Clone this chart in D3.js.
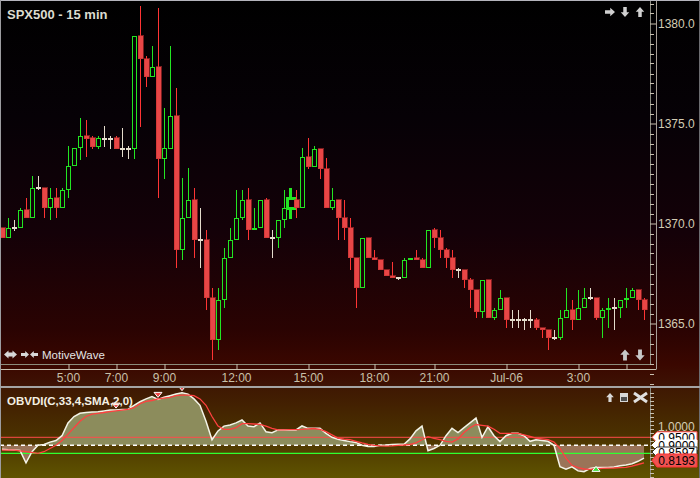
<!DOCTYPE html>
<html><head><meta charset="utf-8">
<script src="https://cdn.jsdelivr.net/npm/d3@7"></script>
<style>body{margin:0;background:#000;overflow:hidden}svg{display:block}</style>
</head><body>
<svg id="c" width="700" height="478"></svg>
<script>
// ---------------- DATA ----------------
const title = "SPX500 - 15 min";
const indicatorTitle = "OBVDI(C,33,4,SMA,2,0)";
const barIndex = d3.range(108);
const opens = [1369.8,1369.3,1369.8,1369.8,1370.7,1370.3,1371.8,1371.8,1370.8,1371.3,
1370.8,1371.7,1372.9,1373.8,1374.4,1374.3,1373.85,1374.25,1374.25,1374.3,
1373.75,1373.75,1373.75,1379.4,1378.25,1377.35,1377.85,1373.25,1373.75,1375.4,
1368.7,1370.3,1371.2,1369.2,1369.2,1366.3,1364.2,1366.2,1368.3,1369.2,
1370.3,1371.2,1369.7,1369.8,1371.2,1369.3,1369.3,1370.2,1370.75,1371.2,
1370.8,1373.35,1372.85,1373.75,1372.75,1370.8,1371.2,1370.3,1369.8,1368.3,
1366.8,1369.3,1368.3,1368.2,1367.7,1367.4,1367.3,1367.3,1368.2,1368.3,
1368.2,1367.8,1369.7,1369.3,1368.7,1368.3,1367.7,1367.7,1367.2,1366.7,
1365.6,1367.2,1365.3,1365.7,1366.3,1365.2,1365.2,1365.2,1365.2,1365.2,
1364.8,1364.7,1364.3,1364.3,1365.3,1365.7,1365.2,1365.8,1366.3,1366.3,
1365.3,1365.7,1365.8,1365.8,1366.2,1366.3,1366.7,1366.2];
const highs = [1369.8,1370.3,1370.2,1370.8,1371.3,1372.4,1372.4,1371.8,1371.8,1371.8,
1371.8,1373.9,1373.8,1375.3,1375.2,1374.4,1374.4,1374.9,1374.4,1374.4,
1374.8,1373.9,1379.4,1380.9,1378.4,1378.9,1380.8,1375.8,1378.9,1376.8,
1372.3,1372.8,1371.8,1370.8,1369.7,1366.8,1366.8,1368.8,1369.8,1371.7,
1371.7,1371.8,1370.8,1371.2,1371.3,1369.7,1370.2,1371.7,1371.8,1371.7,
1373.8,1374.3,1373.9,1373.75,1373.3,1371.8,1371.2,1371.2,1370.3,1368.3,
1369.3,1369.3,1368.7,1368.2,1367.7,1368.1,1367.3,1368.3,1368.3,1368.7,
1368.3,1369.7,1369.8,1369.7,1368.8,1368.7,1367.8,1367.7,1367.3,1366.7,
1367.2,1367.2,1365.8,1366.7,1366.3,1365.7,1365.7,1365.3,1365.7,1365.3,
1364.8,1364.7,1364.7,1365.7,1366.8,1366.2,1366.7,1366.8,1366.8,1366.3,
1365.8,1366.3,1366.3,1366.2,1366.8,1366.8,1366.7,1366.3];
const lows = [1369.3,1369.3,1369.65,1369.8,1370.3,1370.3,1371.7,1370.3,1370.2,1370.3,
1370.8,1371.3,1372.9,1373.2,1373.35,1373.75,1373.75,1373.85,1373.75,1373.75,
1373.35,1373.25,1373.25,1374.85,1376.85,1377.35,1371.3,1372.25,1373.75,1367.8,
1368.2,1370.3,1368.3,1367.8,1365.7,1363.2,1363.7,1365.8,1368.3,1369.2,
1370.2,1369.2,1369.7,1369.8,1369.3,1368.3,1368.8,1369.8,1370.25,1370.3,
1370.8,1372.75,1372.85,1372.25,1370.8,1370.7,1369.2,1369.2,1367.7,1365.8,
1366.8,1368.3,1368.2,1367.7,1367.4,1367.3,1367.2,1367.3,1368.2,1368.2,
1367.8,1367.8,1368.8,1368.3,1367.8,1367.3,1367.3,1366.8,1365.8,1365.3,
1365.3,1365.3,1365.2,1365.7,1364.8,1364.8,1364.8,1364.7,1364.8,1364.7,
1364.3,1363.7,1364.2,1364.2,1365.3,1364.7,1365.2,1365.8,1366.2,1365.2,
1364.3,1364.8,1364.7,1365.3,1365.8,1366.3,1365.7,1365.2];
const closes = [1369.3,1369.8,1369.8,1370.7,1370.3,1371.8,1371.8,1370.8,1371.3,1370.8,
1371.7,1372.9,1373.8,1374.4,1374.25,1373.85,1374.3,1374.25,1374.25,1373.75,
1373.75,1373.75,1379.4,1378.25,1377.35,1377.85,1373.25,1373.8,1375.4,1368.7,
1370.3,1371.2,1369.2,1369.2,1366.3,1364.2,1366.2,1368.3,1369.2,1370.3,
1371.2,1369.7,1369.8,1371.2,1369.3,1369.3,1370.2,1370.8,1371.25,1370.8,
1373.35,1372.85,1373.75,1372.75,1370.8,1371.2,1370.3,1369.8,1368.3,1366.8,
1369.3,1368.3,1368.2,1367.7,1367.4,1367.3,1367.3,1368.2,1368.3,1368.2,
1367.8,1369.7,1369.3,1368.7,1368.3,1367.7,1367.7,1367.2,1366.7,1365.6,
1367.2,1365.3,1365.7,1366.3,1365.2,1365.2,1365.2,1365.2,1365.2,1364.8,
1364.7,1364.3,1364.3,1365.3,1365.7,1365.2,1365.8,1366.3,1366.3,1365.3,
1365.7,1365.8,1365.8,1366.2,1366.3,1366.7,1366.2,1365.7];
const obvdi = [0.875,0.872,0.87,0.868,0.79,0.86,0.90,0.905,0.92,0.93,
0.96,1.04,1.08,1.10,1.105,1.108,1.11,1.115,1.12,1.12,
1.123,1.125,1.15,1.172,1.19,1.204,1.187,1.20,1.21,1.22,
1.229,1.22,1.19,1.15,1.05,0.935,0.99,1.02,1.027,1.04,
1.058,1.02,1.016,1.04,0.985,0.979,0.996,0.996,0.996,0.996,
1.021,1.006,1.006,1.006,0.975,0.95,0.937,0.93,0.923,0.918,
0.90,0.892,0.892,0.90,0.902,0.905,0.906,0.906,0.94,0.99,
1.02,0.866,0.88,0.90,0.96,1.006,0.98,1.01,1.04,1.07,
0.95,1.016,0.96,0.923,0.96,0.975,0.975,0.96,0.925,0.935,
0.93,0.925,0.90,0.766,0.75,0.765,0.74,0.735,0.755,0.762,
0.762,0.762,0.765,0.772,0.777,0.785,0.80,0.82];
const signal = [0.87,0.87,0.87,0.865,0.86,0.855,0.85,0.86,0.88,0.90,
0.93,0.97,1.01,1.05,1.08,1.095,1.10,1.105,1.11,1.115,
1.12,1.125,1.135,1.16,1.175,1.18,1.19,1.195,1.20,1.21,
1.214,1.214,1.21,1.19,1.15,1.08,1.02,1.00,1.00,1.01,
1.035,1.035,1.033,1.031,1.02,1.006,0.996,0.996,0.998,0.998,
1.0,1.003,1.005,1.0,0.985,0.965,0.945,0.938,0.935,0.925,
0.915,0.906,0.90,0.896,0.895,0.897,0.90,0.902,0.905,0.915,
0.935,0.954,0.944,0.935,0.925,0.92,0.94,0.98,1.01,1.03,
1.025,1.02,1.0,0.975,0.975,0.975,0.975,0.965,0.955,0.945,
0.94,0.935,0.92,0.88,0.82,0.775,0.76,0.752,0.75,0.752,
0.756,0.757,0.758,0.76,0.762,0.77,0.78,0.79];
const timeTickBars = [11,19,27,39,51,62,72,84,96,104];
const timeTickLabels = ["5:00","7:00","9:00","12:00","15:00","18:00","21:00","Jul-06","3:00",""];
const priceTicks = [1365,1370,1375,1380];
const upperLevel = 0.95, midLevel = 0.90, lowerLevel = 0.85;
const sellMarkers = [19,26,30];
const buyMarkers = [99];
const valueLabels = ["0.9500","0.9000","0.8597","0.8193"];
const selectedBar = 48;

// ---------------- LAYOUT ----------------
const svg = d3.select("#c");
const W = 700, H = 478;
const plotR = 650, mainBottom = 364, indTop = 388;
const xS = d3.scaleLinear().domain([0,107]).range([2,644]);
const yP = d3.scaleLinear().domain([1365,1380]).range([323.5,23.5]);
const yI = d3.scaleLinear().domain([0.9,1.0]).range([445.3,429.3]);
const defs = svg.append("defs");

const g1 = defs.append("linearGradient").attr("id","gMain").attr("x1",0).attr("y1",0).attr("x2",0).attr("y2",1);
[[0,"#000000"],[0.3,"#060106"],[0.6,"#140108"],[0.85,"#2a0302"],[0.94,"#3a0700"],[1,"#3e1404"]]
  .forEach(s=>g1.append("stop").attr("offset",s[0]).attr("stop-color",s[1]));
const g2 = defs.append("linearGradient").attr("id","gInd").attr("x1",0).attr("y1",0).attr("x2",0).attr("y2",1);
[[0,"#3f1802"],[0.5,"#4a3000"],[1,"#5f5400"]]
  .forEach(s=>g2.append("stop").attr("offset",s[0]).attr("stop-color",s[1]));

svg.append("rect").attr("x",0).attr("y",0).attr("width",W).attr("height",indTop).attr("fill","url(#gMain)");
svg.append("rect").attr("x",0).attr("y",indTop).attr("width",W).attr("height",H-indTop).attr("fill","url(#gInd)");

defs.append("clipPath").attr("id","clipMain").append("rect").attr("x",1).attr("y",1).attr("width",plotR-1).attr("height",mainBottom-1);
defs.append("clipPath").attr("id","clipInd").append("rect").attr("x",1).attr("y",indTop).attr("width",plotR-1).attr("height",H-indTop);

// ---------------- CANDLES ----------------
const cg = svg.append("g").attr("clip-path","url(#clipMain)").attr("shape-rendering","crispEdges");
const GREEN="#22e622", RED="#ff3434", REDBODY="#e84646", WHITE="#e4dccc";
barIndex.forEach(i=>{
  const o=opens[i], c=closes[i], h=highs[i], l=lows[i];
  const cx = Math.round(xS(i));
  const sel = i===selectedBar;
  if (c>o){
    const yt=yP(c), yb=yP(o);
    const sw = sel?3:1;
    cg.append("line").attr("x1",cx+0.5).attr("x2",cx+0.5).attr("y1",yP(h)).attr("y2",yt).attr("stroke",GREEN).attr("stroke-width",sw);
    cg.append("line").attr("x1",cx+0.5).attr("x2",cx+0.5).attr("y1",yb).attr("y2",yP(l)).attr("stroke",GREEN).attr("stroke-width",sw);
    if(sel){
      cg.append("rect").attr("x",cx-3).attr("y",yt).attr("width",8).attr("height",Math.max(1,yb-yt)).attr("fill","none").attr("stroke",GREEN).attr("stroke-width",3);
    } else {
      cg.append("rect").attr("x",cx-1.5).attr("y",yt+0.5).attr("width",4).attr("height",Math.max(1,yb-yt-1)).attr("fill","none").attr("stroke",GREEN).attr("stroke-width",1);
    }
  } else if (c<o){
    cg.append("line").attr("x1",cx+0.5).attr("x2",cx+0.5).attr("y1",yP(h)).attr("y2",yP(l)).attr("stroke",RED).attr("stroke-width",1);
    cg.append("rect").attr("x",cx-2).attr("y",yP(o)).attr("width",5).attr("height",Math.max(1,yP(c)-yP(o))).attr("fill",REDBODY).attr("stroke","#c83030").attr("stroke-width",0.6);
  } else {
    cg.append("line").attr("x1",cx+0.5).attr("x2",cx+0.5).attr("y1",yP(h)).attr("y2",yP(l)).attr("stroke",WHITE).attr("stroke-width",1);
    cg.append("rect").attr("x",cx-2).attr("y",yP(o)-1).attr("width",5).attr("height",2).attr("fill",WHITE);
  }
});

// ---------------- AXES ----------------
const axisCol = "#c8c0a8";
svg.append("line").attr("x1",plotR).attr("x2",plotR).attr("y1",1).attr("y2",mainBottom).attr("stroke","#8a8a80").attr("shape-rendering","crispEdges");
const minor = d3.range(1362,1382.01,0.5).filter(v=>v%5!==0);
svg.append("g").selectAll("line").data(minor).join("line")
  .attr("x1",plotR).attr("x2",plotR+4).attr("y1",d=>Math.round(yP(d))+0.5).attr("y2",d=>Math.round(yP(d))+0.5)
  .attr("stroke","#c8c0b0").attr("stroke-width",1);
const pa = svg.append("g").attr("transform",`translate(${plotR},0)`)
  .call(d3.axisRight(yP).tickValues(priceTicks).tickSize(6).tickPadding(2).tickFormat(d3.format(".1f")));
pa.select(".domain").remove();
pa.selectAll("line").attr("stroke","#c8c0b0");
pa.selectAll("text").attr("fill","#d4ccb4").style("font-family","'Liberation Sans',Arial,sans-serif").style("font-size","12px");

// time axis
svg.append("line").attr("x1",1).attr("x2",plotR).attr("y1",mainBottom+0.5).attr("y2",mainBottom+0.5).attr("stroke","#8c8c7c");
svg.append("line").attr("x1",1).attr("x2",656).attr("y1",369.5).attr("y2",369.5).attr("stroke","#c8c0b0");
svg.append("line").attr("x1",656.5).attr("x2",656.5).attr("y1",1).attr("y2",369.5).attr("stroke","#a8a098");
const ta = svg.append("g").attr("transform",`translate(0,${mainBottom})`)
  .call(d3.axisBottom(xS).tickValues(timeTickBars).tickSize(5).tickPadding(4).tickFormat((d,i)=>timeTickLabels[i]));
ta.select(".domain").remove();
ta.selectAll("line").attr("stroke","#c8c0b0").attr("transform","translate(0.5,0)");
ta.selectAll("text").attr("fill",axisCol).style("font-family","'Liberation Sans',Arial,sans-serif").style("font-size","12px");

// frame
svg.append("line").attr("x1",0).attr("x2",W).attr("y1",0.5).attr("y2",0.5).attr("stroke","#b4b4bc");
svg.append("line").attr("x1",0.5).attr("x2",0.5).attr("y1",0).attr("y2",H).attr("stroke","#9c9ca0");
svg.append("line").attr("x1",W-0.5).attr("x2",W-0.5).attr("y1",0).attr("y2",H).attr("stroke","#6c6c70");
svg.append("rect").attr("x",0).attr("y",386).attr("width",W).attr("height",2).attr("fill","#a4a4a4");

// title
svg.append("text").attr("x",7).attr("y",19).text(title)
  .attr("fill","#dcdcd0").style("font-family","'Liberation Sans',Arial,sans-serif").style("font-size","13px").style("font-weight","bold");
svg.append("text").attr("x",42).attr("y",359).text("MotiveWave")
  .attr("fill","#e4e4e4").style("font-family","'Liberation Sans',Arial,sans-serif").style("font-size","11.5px");

// arrow icons
function arrow(cx,cy,s,rot,fill){
  const p = [[0,-s],[s*0.85,-s*0.05],[s*0.35,-s*0.05],[s*0.35,s],[-s*0.35,s],[-s*0.35,-s*0.05],[-s*0.85,-s*0.05]];
  svg.append("path").attr("d","M"+p.map(q=>q.join(",")).join("L")+"Z")
    .attr("transform",`translate(${cx},${cy}) rotate(${rot})`).attr("fill",fill);
}
arrow(610,12,5,90,"#d0d0d0"); arrow(625,12,5,180,"#d0d0d0"); arrow(640,12,5,0,"#d0d0d0");
arrow(625,355,5.5,0,"#c8c8c8"); arrow(640,355,5.5,180,"#c8c8c8");
arrow(25,354.5,4,90,"#d8d8d8"); arrow(34,354.5,4,-90,"#d8d8d8");
svg.append("path").attr("d","M4,354.5L8.5,350.5L8.5,352.5L12.5,352.5L12.5,350.5L17,354.5L12.5,358.5L12.5,356.5L8.5,356.5L8.5,358.5Z").attr("fill","#d8d8d8");
arrow(610,397.5,4.5,0,"#d8d8d8");
svg.append("rect").attr("x",620).attr("y",393).attr("width",8).attr("height",9).attr("fill","#d8d8d8");
svg.append("rect").attr("x",621).attr("y",397).attr("width",6).attr("height",4).attr("fill","#505050");
svg.append("path").attr("d","M634,393L647,402M647,393L634,402").attr("stroke","#e0e0e0").attr("stroke-width",3);

// ---------------- INDICATOR ----------------
const ig = svg.append("g").attr("clip-path","url(#clipInd)");
const base = yI(midLevel);
defs.append("clipPath").attr("id","cAbove").append("rect").attr("x",0).attr("y",0).attr("width",plotR).attr("height",base);
defs.append("clipPath").attr("id","cBelow").append("rect").attr("x",0).attr("y",base).attr("width",plotR).attr("height",H-base);
const area = d3.area().x((d,i)=>xS(i)).y0(base).y1(d=>yI(d));
ig.append("path").datum(obvdi).attr("d",area).attr("fill","#8c8c5c").attr("clip-path","url(#cAbove)");
ig.append("path").datum(obvdi).attr("d",area).attr("fill","#9a7458").attr("clip-path","url(#cBelow)");
ig.append("line").attr("x1",0).attr("x2",plotR).attr("y1",yI(upperLevel)).attr("y2",yI(upperLevel)).attr("stroke","#ff4a4a").attr("stroke-width",1);
ig.append("line").attr("x1",0).attr("x2",plotR).attr("y1",yI(midLevel)).attr("y2",yI(midLevel)).attr("stroke","#ffffff").attr("stroke-width",1.4).attr("stroke-dasharray","4,3");
ig.append("line").attr("x1",0).attr("x2",plotR).attr("y1",yI(lowerLevel)).attr("y2",yI(lowerLevel)).attr("stroke","#30ff30").attr("stroke-width",1.2);
const line = d3.line().x((d,i)=>xS(i)).y(d=>yI(d));
ig.append("path").datum(obvdi).attr("d",line).attr("fill","none").attr("stroke","#f4f4e8").attr("stroke-width",1.5);
ig.append("path").datum(signal).attr("d",line).attr("fill","none").attr("stroke","#ff4040").attr("stroke-width",1.3);
sellMarkers.forEach(i=>{
  const x=xS(i), y=yI(obvdi[i])-2;
  ig.append("path").attr("d",`M${x-4},${y-5}L${x+4},${y-5}L${x},${y}Z`).attr("fill","#f04848").attr("stroke","#ffffff").attr("stroke-width",1);
});
buyMarkers.forEach(i=>{
  const x=xS(i), y=yI(obvdi[i])-1;
  ig.append("path").attr("d",`M${x-4},${y+5}L${x+4},${y+5}L${x},${y}Z`).attr("fill","#40e040").attr("stroke","#ffffff").attr("stroke-width",1);
});

svg.append("text").attr("x",7).attr("y",405).text(indicatorTitle)
  .attr("fill","#f4f0e4").style("font-family","'Liberation Sans',Arial,sans-serif").style("font-size","11.5px").style("font-weight","bold");

// indicator axis
svg.append("line").attr("x1",plotR+0.5).attr("x2",plotR+0.5).attr("y1",indTop).attr("y2",H).attr("stroke","#8a8a80");
svg.append("g").selectAll("line").data(d3.range(0.70,1.36,0.025)).join("line")
  .attr("x1",plotR).attr("x2",plotR+4).attr("y1",d=>Math.round(yI(d))+0.5).attr("y2",d=>Math.round(yI(d))+0.5)
  .attr("stroke","#c8c0b0").filter(d=>yI(d)<indTop+2).remove();
svg.append("text").attr("x",658).attr("y",431).text("1.0000").attr("fill","#d4ccb4")
  .style("font-family","'Liberation Sans',Arial,sans-serif").style("font-size","12px");

function tag(yc,txt,fill,stroke,h){
  const x0=652, x1=697, hh=h/2;
  svg.append("path").attr("d",`M${x0},${yc}L${x0+5},${yc-hh}L${x1},${yc-hh}L${x1},${yc+hh}L${x0+5},${yc+hh}Z`)
    .attr("fill",fill).attr("stroke",stroke).attr("stroke-width",1);
  svg.append("text").attr("x",x1-2).attr("y",yc+4.5).attr("text-anchor","end").text(txt).attr("fill","#000")
    .style("font-family","'Liberation Sans',Arial,sans-serif").style("font-size","12px");
}
tag(yI(upperLevel),valueLabels[0],"#ffffff","#ff4a4a",11);
tag(445,valueLabels[1],"#ffffff","#ffffff",10);
tag(452,valueLabels[2],"#ffffff","#303030",10);
tag(460.5,valueLabels[3],"#f05252","#ff3030",13);
</script>
</body></html>
